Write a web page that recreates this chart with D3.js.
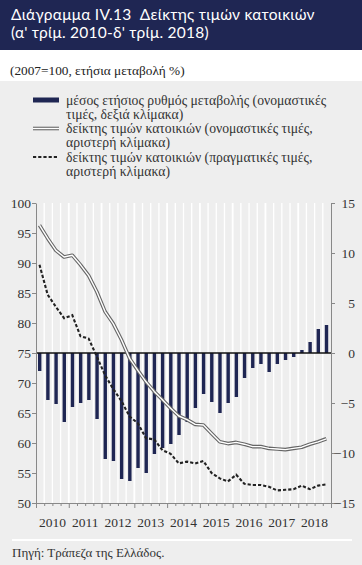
<!DOCTYPE html>
<html>
<head>
<meta charset="utf-8">
<script src="https://cdn.jsdelivr.net/npm/d3@7"></script>
<style>
  body { margin: 0; background: #fff; }
  svg { display: block; }
  .serif { font-family: "Liberation Serif", "DejaVu Serif", serif; }
</style>
</head>
<body>
<svg id="chart" width="362" height="565"></svg>
<script>
// ── data ───────────────────────────────────────────
const years = ["2010", "2011", "2012", "2013", "2014", "2015", "2016", "2017", "2018"];
const quarters = years.flatMap((y) => ["Q1", "Q2", "Q3", "Q4"].map((q) => `${y}${q}`));

// μέσος ετήσιος ρυθμός μεταβολής (δεξιά κλίμακα)
const annualChange = [
  -1.8, -4.7, -5.1, -6.9,
  -5.4, -5.0, -4.7, -6.6,
  -10.6, -10.8, -12.6, -12.8,
  -11.5, -12.0, -10.1, -9.5,
  -9.1, -8.2, -6.9, -5.5,
  -4.1, -4.9, -6.0, -5.0,
  -4.4, -2.5, -1.5, -1.1,
  -1.9, -1.1, -0.7, -0.4,
  0.3, 1.1, 2.4, 2.8,
];
// δείκτης ονομαστικών τιμών (αριστερή κλίμακα)
const nominalIndex = [
  96.3, 94.1, 92.1, 91.0,
  91.3, 89.7, 87.9, 85.2,
  81.9, 79.9, 77.2, 74.1,
  72.1, 70.2, 68.6, 67.2,
  65.8, 64.5, 63.9, 63.1,
  63.0, 61.6, 60.2, 59.9,
  60.1, 59.8, 59.4, 59.4,
  59.1, 59.0, 58.9, 59.1,
  59.3, 59.8, 60.2, 60.7,
];
// δείκτης πραγματικών τιμών (αριστερή κλίμακα)
const realIndex = [
  89.7, 84.7, 82.7, 80.8,
  81.3, 77.8, 77.4, 74.4,
  71.3, 69.0, 67.0, 64.4,
  63.3, 60.8, 60.6, 58.8,
  58.2, 56.6, 56.9, 56.6,
  57.0, 55.0, 54.1, 53.6,
  54.7, 53.2, 53.0, 53.0,
  52.7, 52.1, 52.2, 52.3,
  52.9, 52.3, 52.9, 53.1,
];
const leftTicks = [50, 55, 60, 65, 70, 75, 80, 85, 90, 95, 100];
const rightTicks = [-15, -10, -5, 0, 5, 10, 15];

const legendItems = [
  { kind: "bar", lines: ["μέσος ετήσιος ρυθμός μεταβολής (ονομαστικές", "τιμές, δεξιά κλίμακα)"] },
  { kind: "double", lines: ["δείκτης τιμών κατοικιών (ονομαστικές τιμές,", "αριστερή κλίμακα)"] },
  { kind: "dash", lines: ["δείκτης τιμών κατοικιών (πραγματικές τιμές,", "αριστερή κλίμακα)"] },
];

// ── layout ─────────────────────────────────────────
const W = 362, H = 565;
const navy = "#1f2653";
const bg = "#eeeeee";
const plot = { left: 36, right: 331, top: 203, bottom: 503 };

const svg = d3.select("#chart");

// background panels
svg.append("rect").attr("width", W).attr("height", H).attr("fill", bg);
svg.append("rect").attr("width", W).attr("height", 81).attr("fill", "#fff");
svg.append("rect").attr("width", W).attr("height", 50).attr("fill", navy);

// title
const title = svg.append("text")
  .attr("fill", "#fff")
  .style("font-family", "Lato, 'Open Sans', sans-serif")
  .style("font-size", "15.5px")
  .style("letter-spacing", "0.25px")
  .style("white-space", "pre");
title.append("tspan").attr("x", 11).attr("y", 20).text("Διάγραμμα IV.13  Δείκτης τιμών κατοικιών");
title.append("tspan").attr("x", 11).attr("y", 38).text("(α' τρίμ. 2010-δ' τρίμ. 2018)");

svg.append("text")
  .attr("class", "serif")
  .attr("x", 10).attr("y", 75)
  .attr("fill", "#222")
  .style("font-size", "13.3px")
  .text("(2007=100, ετήσια μεταβολή %)");

// legend
const leg = svg.append("g").attr("class", "serif");
legendItems.forEach((item, i) => {
  const y0 = 100 + i * 28.5;
  const g = leg.append("g");
  if (item.kind === "bar") {
    g.append("rect").attr("x", 33).attr("y", y0 - 2.5).attr("width", 26).attr("height", 5).attr("fill", navy);
  } else if (item.kind === "double") {
    g.append("line").attr("x1", 33).attr("x2", 59).attr("y1", y0).attr("y2", y0).attr("stroke", "#666").attr("stroke-width", 3.6);
    g.append("line").attr("x1", 33).attr("x2", 59).attr("y1", y0).attr("y2", y0).attr("stroke", "#fff").attr("stroke-width", 1.4);
  } else {
    g.append("line").attr("x1", 33).attr("x2", 59).attr("y1", y0).attr("y2", y0).attr("stroke", "#222").attr("stroke-width", 2).attr("stroke-dasharray", "3.2,2");
  }
  item.lines.forEach((t, j) => {
    g.append("text")
      .attr("x", 66).attr("y", y0 + 4.5 + j * 14)
      .attr("fill", "#333")
      .style("font-size", "13.7px")
      .text(t);
  });
});

// ── scales ─────────────────────────────────────────
const x = d3.scaleBand().domain(quarters).range([plot.left, plot.right]).padding(0);
const xi = d3.scaleLinear().domain([0, quarters.length]).range([plot.left, plot.right]);
const yL = d3.scaleLinear().domain([50, 100]).range([plot.bottom, plot.top]);
const yR = d3.scaleLinear().domain([-15, 15]).range([plot.bottom, plot.top]);

// white vertical gridlines at band boundaries
svg.append("g")
  .selectAll("line")
  .data(d3.range(1, quarters.length))
  .join("line")
  .attr("x1", (d) => xi(d)).attr("x2", (d) => xi(d))
  .attr("y1", plot.top).attr("y2", plot.bottom)
  .attr("stroke", "#fff")
  .attr("stroke-width", (d) => (d % 4 === 0 ? 1.8 : 1.3));

// bars
const barW = 3.4;
svg.append("g")
  .selectAll("rect")
  .data(annualChange)
  .join("rect")
  .attr("x", (d, i) => x(quarters[i]) + x.bandwidth() / 2 - barW / 2 - 0.4)
  .attr("width", barW)
  .attr("y", (d) => yR(Math.max(0, d)))
  .attr("height", (d) => Math.abs(yR(d) - yR(0)))
  .attr("fill", navy);

// zero line
svg.append("line")
  .attr("x1", plot.left).attr("x2", plot.right)
  .attr("y1", yR(0)).attr("y2", yR(0))
  .attr("stroke", "#111").attr("stroke-width", 1.3);

// lines
const xc = (i) => x(quarters[i]) + x.bandwidth() / 2 - 0.6;
const line = d3.line().x((d, i) => xc(i)).y((d) => yL(d));

svg.append("path").datum(nominalIndex)
  .attr("d", line).attr("fill", "none")
  .attr("stroke", "#666").attr("stroke-width", 3.6).attr("stroke-linejoin", "round");
svg.append("path").datum(nominalIndex)
  .attr("d", line).attr("fill", "none")
  .attr("stroke", "#fff").attr("stroke-width", 1.4).attr("stroke-linejoin", "round");

svg.append("path").datum(realIndex)
  .attr("d", line).attr("fill", "none")
  .attr("stroke", "#222").attr("stroke-width", 2.1).attr("stroke-dasharray", "3.2,2");

// ── axes ───────────────────────────────────────────
const axisColor = "#888";
const styleAxis = (g) => {
  g.selectAll(".domain").attr("stroke", axisColor);
  g.selectAll(".tick line").attr("stroke", axisColor);
  g.selectAll(".tick text")
    .attr("fill", "#333")
    .style("font-family", "'Liberation Serif', serif")
    .style("font-size", "13.5px");
};

svg.append("g")
  .attr("transform", `translate(${plot.left},0)`)
  .call(d3.axisLeft(yL).tickValues(leftTicks).tickSize(4).tickSizeOuter(0).tickPadding(1))
  .call(styleAxis);

svg.append("g")
  .attr("transform", `translate(${plot.right},0)`)
  .call(d3.axisRight(yR).tickValues(rightTicks).tickSize(4).tickSizeOuter(0).tickPadding(4))
  .call(styleAxis)
  .call((g) => g.selectAll(".tick text").attr("text-anchor", "end").attr("x", 24));

const xAxis = svg.append("g")
  .attr("transform", `translate(0,${plot.bottom})`)
  .call(d3.axisBottom(xi).tickValues(d3.range(0, quarters.length + 1)).tickSize(3).tickSizeOuter(0).tickFormat(""))
  .call(styleAxis);
xAxis.selectAll(".tick line").attr("y2", (d) => (d % 4 === 0 ? 5 : 3));

// year labels
svg.append("g")
  .selectAll("text")
  .data(years)
  .join("text")
  .attr("class", "serif")
  .attr("x", (d, i) => (xi(i * 4) + xi(i * 4 + 4)) / 2)
  .attr("y", 527)
  .attr("text-anchor", "middle")
  .attr("fill", "#333")
  .style("font-size", "13.5px")
  .text((d) => d);

// footer rule + source
svg.append("line")
  .attr("x1", 12).attr("x2", 352).attr("y1", 540).attr("y2", 540)
  .attr("stroke", "#fff").attr("stroke-width", 2);
svg.append("text")
  .attr("class", "serif")
  .attr("x", 12).attr("y", 557)
  .attr("fill", "#333")
  .style("font-size", "13px")
  .text("Πηγή: Τράπεζα της Ελλάδος.");
</script>
</body>
</html>
